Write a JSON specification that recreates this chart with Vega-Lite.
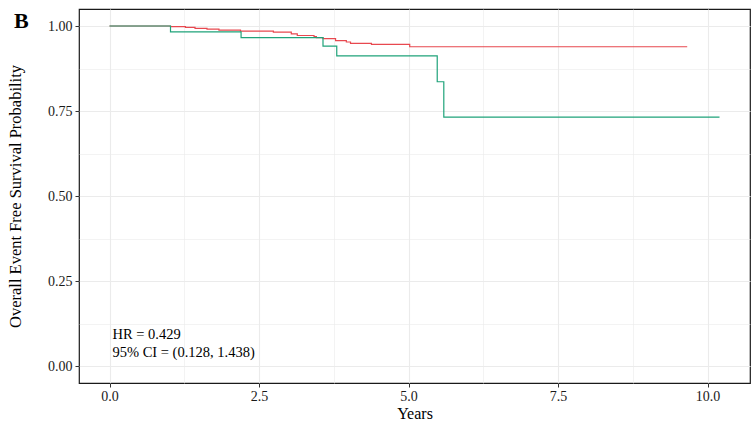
{
  "$schema": "https://vega.github.io/schema/vega-lite/v6.json",
  "width": 671,
  "height": 374,
  "autosize": {"type": "none"},
  "padding": {"left": 79, "top": 9, "right": 2, "bottom": 39},
  "background": "white",
  "config": {
    "font": "Liberation Serif",
    "view": {"stroke": "#1a1a1a", "strokeWidth": 1.2},
    "axis": {
      "domain": false,
      "labelFont": "Liberation Serif",
      "titleFont": "Liberation Serif",
      "labelColor": "#1a1a1a",
      "titleColor": "#000000",
      "labelFontSize": 14,
      "titleFontSize": 16.5,
      "titleFontWeight": "normal",
      "tickColor": "#333333",
      "tickSize": 4,
      "gridColor": "#EBEBEB"
    }
  },
  "title": {
    "text": "B",
    "anchor": "start",
    "frame": "group",
    "font": "Liberation Serif",
    "fontSize": 22,
    "fontWeight": "bold",
    "color": "#000000",
    "offset": 0,
    "dx": -65,
    "dy": 24
  },
  "datasets": {
    "km": [
      {"group": "Group 1", "time": 0, "surv": 1.0},
      {"group": "Group 1", "time": 1.02, "surv": 0.998},
      {"group": "Group 1", "time": 1.27, "surv": 0.996},
      {"group": "Group 1", "time": 1.43, "surv": 0.993},
      {"group": "Group 1", "time": 1.63, "surv": 0.991},
      {"group": "Group 1", "time": 1.83, "surv": 0.988},
      {"group": "Group 1", "time": 2.19, "surv": 0.985},
      {"group": "Group 1", "time": 2.74, "surv": 0.982},
      {"group": "Group 1", "time": 3.04, "surv": 0.977},
      {"group": "Group 1", "time": 3.14, "surv": 0.972},
      {"group": "Group 1", "time": 3.42, "surv": 0.969},
      {"group": "Group 1", "time": 3.46, "surv": 0.966},
      {"group": "Group 1", "time": 3.57, "surv": 0.963},
      {"group": "Group 1", "time": 3.78, "surv": 0.957},
      {"group": "Group 1", "time": 3.96, "surv": 0.953},
      {"group": "Group 1", "time": 4.03, "surv": 0.949},
      {"group": "Group 1", "time": 4.38, "surv": 0.946},
      {"group": "Group 1", "time": 5.02, "surv": 0.939},
      {"group": "Group 1", "time": 9.66, "surv": 0.939},
      {"group": "Group 2", "time": 0, "surv": 1.0},
      {"group": "Group 2", "time": 1.02, "surv": 0.983},
      {"group": "Group 2", "time": 2.2, "surv": 0.966},
      {"group": "Group 2", "time": 3.57, "surv": 0.941},
      {"group": "Group 2", "time": 3.8, "surv": 0.912},
      {"group": "Group 2", "time": 5.48, "surv": 0.836},
      {"group": "Group 2", "time": 5.59, "surv": 0.732},
      {"group": "Group 2", "time": 10.2, "surv": 0.732}
    ],
    "notes": [
      {"x": 0.05, "y": 0.091, "label": "HR = 0.429"},
      {"x": 0.05, "y": 0.038, "label": "95% CI = (0.128, 1.438)"}
    ]
  },
  "layer": [
    {
      "data": {"name": "km"},
      "mark": {"type": "line", "interpolate": "step-after", "strokeWidth": 1.2},
      "encoding": {
        "x": {
          "field": "time",
          "type": "quantitative",
          "title": "Years",
          "scale": {"domain": [-0.51, 10.71], "nice": false, "zero": false},
          "axis": {
            "values": [0, 1.25, 2.5, 3.75, 5, 6.25, 7.5, 8.75, 10],
            "labelExpr": "datum.value % 2.5 == 0 ? format(datum.value, '.1f') : ''",
            "tickOpacity": {"condition": {"test": "datum.value % 2.5 != 0", "value": 0}, "value": 1},
            "gridWidth": {"condition": {"test": "datum.value % 2.5 != 0", "value": 0.6}, "value": 1.1},
            "labelPadding": 2,
            "titleFontSize": 16,
            "titlePadding": 2
          }
        },
        "y": {
          "field": "surv",
          "type": "quantitative",
          "title": "Overall Event Free Survival Probability",
          "scale": {"domain": [-0.05, 1.05], "nice": false, "zero": false},
          "axis": {
            "values": [0, 0.125, 0.25, 0.375, 0.5, 0.625, 0.75, 0.875, 1],
            "labelExpr": "datum.value % 0.25 == 0 ? format(datum.value, '.2f') : ''",
            "tickOpacity": {"condition": {"test": "datum.value % 0.25 != 0", "value": 0}, "value": 1},
            "gridWidth": {"condition": {"test": "datum.value % 0.25 != 0", "value": 0.6}, "value": 1.1},
            "labelPadding": 3,
            "titlePadding": 24
          }
        },
        "color": {
          "field": "group",
          "type": "nominal",
          "legend": null,
          "scale": {"domain": ["Group 1", "Group 2"], "range": ["#E8484F", "#1FA37A"]}
        }
      }
    },
    {
      "data": {"name": "notes"},
      "mark": {"type": "text", "align": "left", "baseline": "middle", "font": "Liberation Serif", "fontSize": 14.5, "color": "#000000"},
      "encoding": {
        "x": {"field": "x", "type": "quantitative"},
        "y": {"field": "y", "type": "quantitative"},
        "text": {"field": "label"}
      }
    }
  ]
}
